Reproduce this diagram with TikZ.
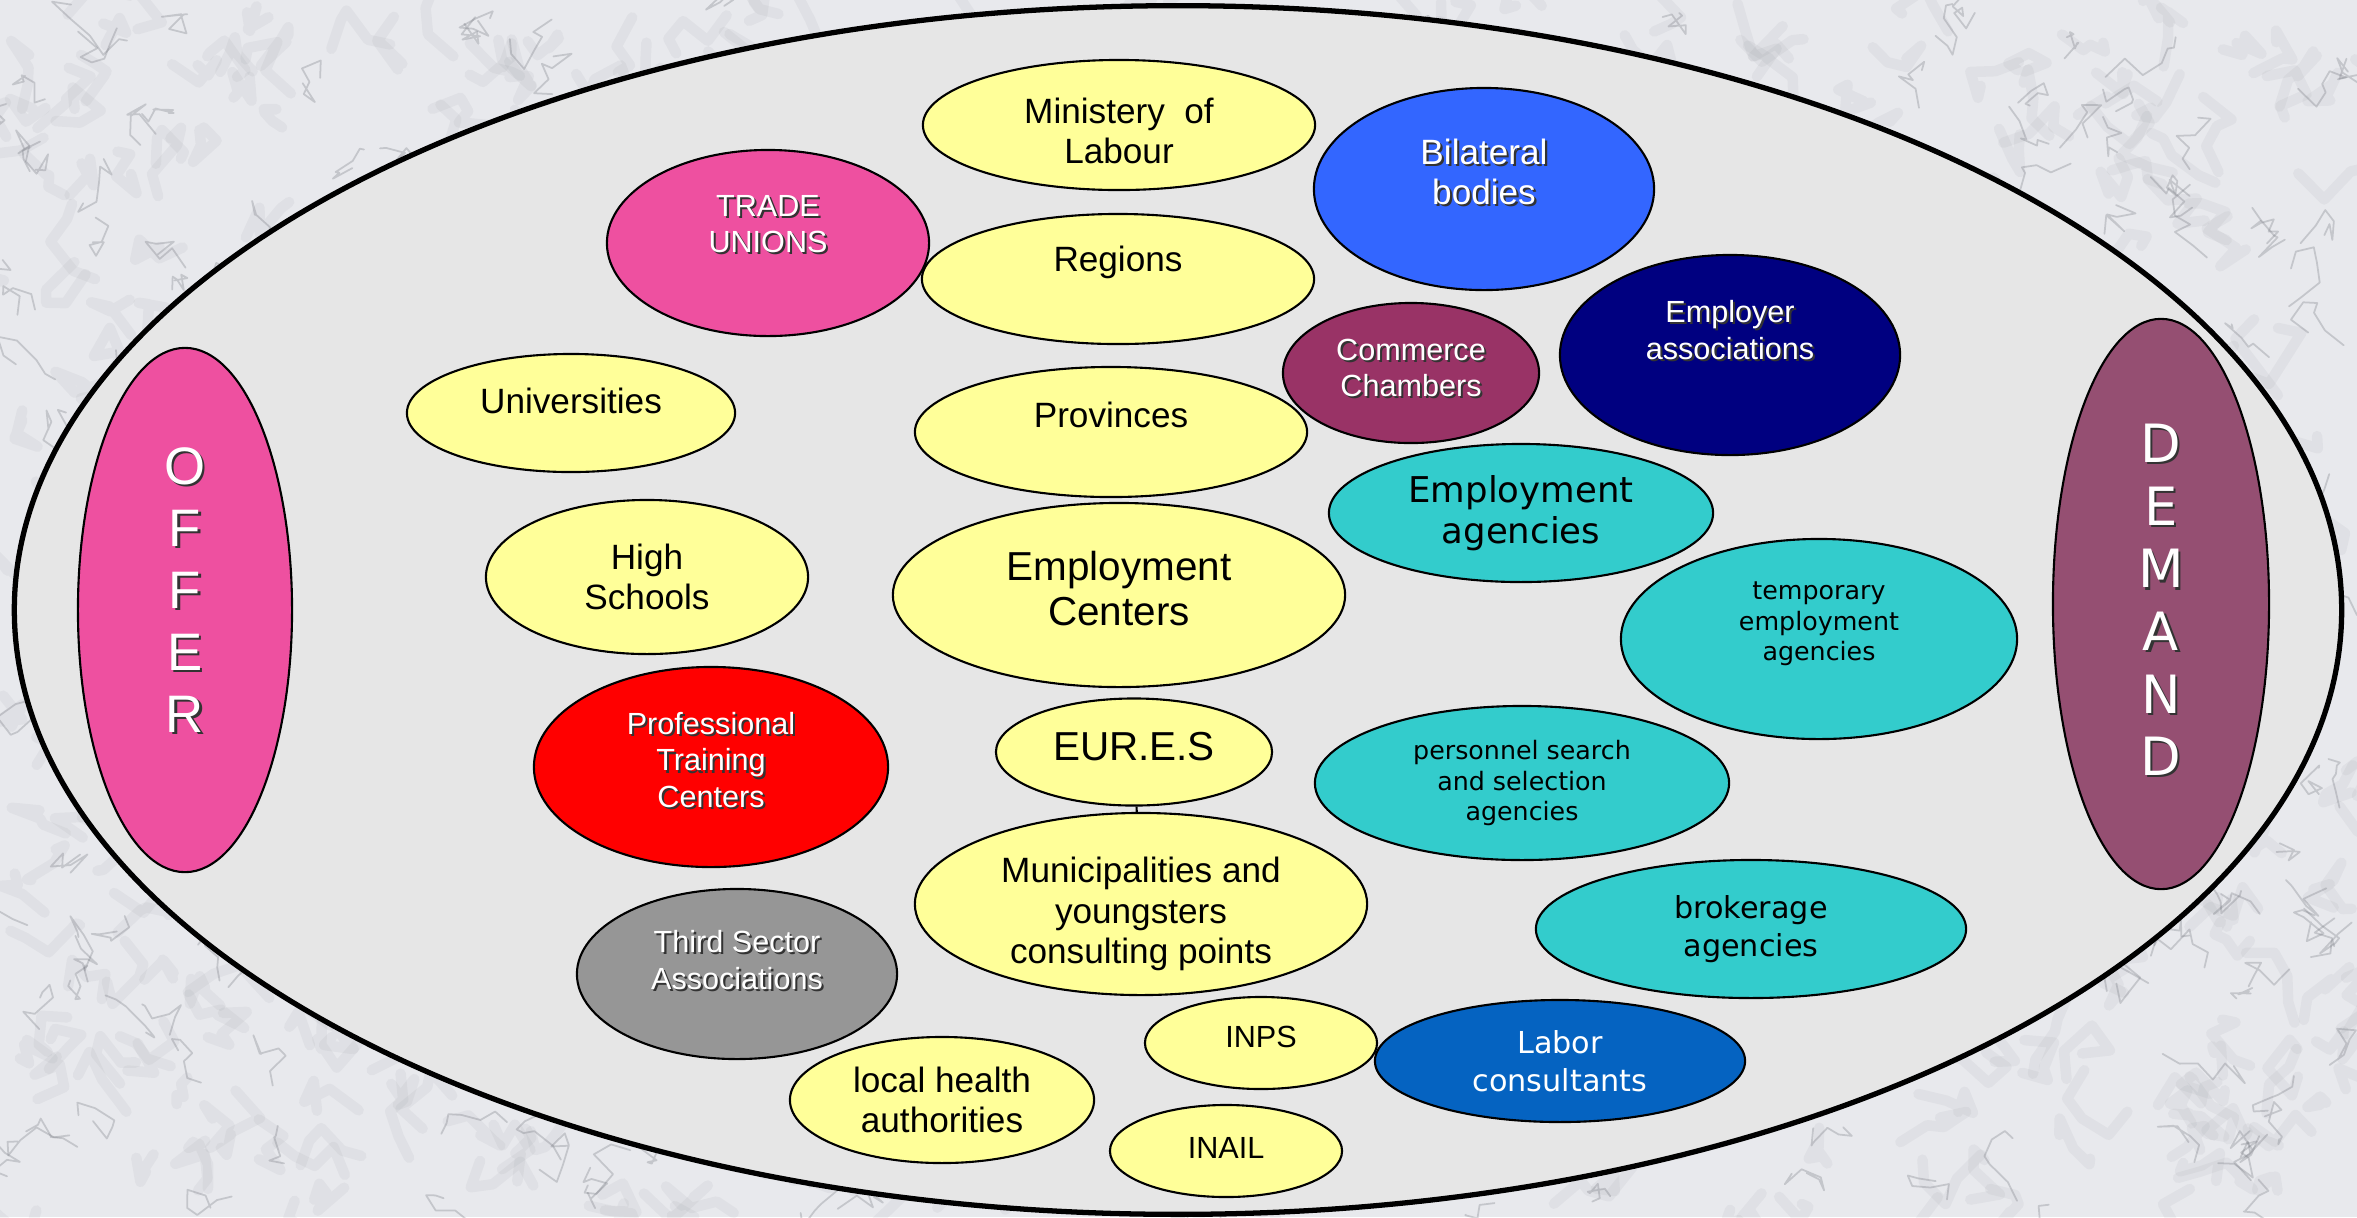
\documentclass[tikz,border=0pt]{standalone}
\usepackage{fontspec}
\setmainfont{Liberation Sans}
\newfontfamily\dejavu{DejaVu Sans}
\usepackage{tikz}
\usetikzlibrary{shapes.geometric}
\definecolor{paleyellow}{RGB}{255,255,153}
\definecolor{offerpink}{RGB}{238,80,160}
\definecolor{demandmauve}{RGB}{149,79,114}
\definecolor{bilatblue}{RGB}{51,102,255}
\definecolor{commercewine}{RGB}{153,51,102}
\definecolor{employernavy}{RGB}{0,0,128}
\definecolor{agencyteal}{RGB}{51,204,204}
\definecolor{consultblue}{RGB}{5,99,193}
\definecolor{sectorgrey}{RGB}{150,150,150}
\definecolor{fieldgrey}{RGB}{230,230,230}
\definecolor{marble}{RGB}{232,233,237}
\definecolor{veingrey}{RGB}{115,118,126}

\begin{document}
\begin{tikzpicture}[x=0.01cm, y=-0.01cm,
    oval/.style={ellipse, draw=black, line width=0.6pt, inner sep=0pt},
    yel/.style={oval, fill=paleyellow},
    txt/.style n args={3}{label={[#1, yshift=#2]center:{#3}}},
    % white lettering with a dark drop shadow
    wtxt/.style n args={3}{label={[#1, text=black!80, xshift=0.6pt, yshift=#2-0.6pt]center:{#3}},
                           label={[#1, text=white, yshift=#2]center:{#3}}},
    every label/.style={align=center, inner sep=0pt},
    ar/.style={font=\fontsize{10}{11.6}\selectfont},
    arl/.style={font=\fontsize{11.5}{12.8}\selectfont},
    ars/.style={font=\fontsize{8.7}{10.4}\selectfont},
    arw/.style={font=\fontsize{8.7}{10.4}\selectfont},
    arwl/.style={font=\fontsize{10}{11.5}\selectfont},
    vds/.style={font=\dejavu\fontsize{7.2}{8.7}\selectfont},
    vdm/.style={font=\dejavu\fontsize{8.6}{10.8}\selectfont},
    vdl/.style={font=\dejavu\fontsize{10.1}{11.5}\selectfont},
    vdw/.style={font=\dejavu\fontsize{8.6}{10.7}\selectfont, text=white},
    offer/.style={font=\fontsize{15}{17.6}\selectfont},
    demand/.style={font=\dejavu\fontsize{15}{17.8}\selectfont},
    softvein/.style={draw=veingrey, line width=3pt, opacity=0.07, line cap=round, line join=round},
    vein/.style={draw=veingrey, line width=0.5pt, opacity=0.3, line cap=round, line join=round}]
\useasboundingbox (0,0) rectangle (2357,1217);
\clip (0,0) rectangle (2357,1217);
% marble backdrop
\fill[marble] (0,0) rectangle (2357,1217);
\pgfmathsetseed{11}
\foreach \k in {1,...,900}
  \draw[softvein] (rnd*2357, rnd*1217) \foreach \s in {1,...,4}{ -- ++(rand*30, rand*30)};
\foreach \k in {1,...,500}
  \draw[vein] (rnd*2357, rnd*1217) \foreach \s in {1,...,6}{ -- ++(rand*20, rand*20)};
% the whole field
\node[ellipse, draw=black, line width=1.5pt, fill=fieldgrey, inner sep=0pt,
      minimum width=23.26cm, minimum height=12.08cm] (field) at (1178,610) {};
% supply and demand sides
\node[oval, fill=offerpink, minimum width=2.14cm, minimum height=5.24cm,
      wtxt={offer}{0.2cm}{O\\F\\F\\E\\R}] (offer) at (185,610) {};
\node[oval, fill=demandmauve, minimum width=2.16cm, minimum height=5.70cm,
      wtxt={demand}{0.04cm}{D\\E\\M\\A\\N\\D}] (demand) at (2161,604) {};
% actors
\node[yel, minimum width=3.92cm, minimum height=1.30cm,
      txt={ar}{-0.06cm}{Ministery\ \ of\\Labour}] (ministry) at (1119,125) {};
\node[oval, fill=offerpink, minimum width=3.22cm, minimum height=1.86cm,
      wtxt={arw}{0.19cm}{TRADE\\UNIONS}] (unions) at (768,243) {};
\node[oval, fill=bilatblue, minimum width=3.40cm, minimum height=2.02cm,
      wtxt={arwl}{0.17cm}{Bilateral\\bodies}] (bilateral) at (1484,189) {};
\node[yel, minimum width=3.92cm, minimum height=1.30cm,
      txt={ar}{0.17cm}{Regions}] (regions) at (1118,279) {};
\node[oval, fill=commercewine, minimum width=2.56cm, minimum height=1.40cm,
      wtxt={arw}{0.05cm}{Commerce\\Chambers}] (commerce) at (1411,373) {};
\node[oval, fill=employernavy, minimum width=3.40cm, minimum height=2.00cm,
      wtxt={arw}{0.25cm}{Employer\\associations}] (employer) at (1730,355) {};
\node[yel, minimum width=3.28cm, minimum height=1.18cm,
      txt={ar}{0.12cm}{Universities}] (universities) at (571,413) {};
\node[yel, minimum width=3.92cm, minimum height=1.30cm,
      txt={ar}{0.17cm}{Provinces}] (provinces) at (1111,432) {};
\node[oval, fill=agencyteal, minimum width=3.84cm, minimum height=1.38cm,
      txt={vdl}{0cm}{Employment\\agencies}] (empagencies) at (1521,513) {};
\node[yel, minimum width=3.22cm, minimum height=1.54cm,
      txt={ar}{0cm}{High\\Schools}] (schools) at (647,577) {};
\node[yel, minimum width=4.52cm, minimum height=1.84cm,
      txt={arl}{0.06cm}{Employment\\Centers}] (empcenters) at (1119,595) {};
\node[oval, fill=agencyteal, minimum width=3.96cm, minimum height=2.00cm,
      txt={vds}{0.15cm}{temporary\\employment\\agencies}] (temporary) at (1819,639) {};
\node[oval, fill=red, minimum width=3.54cm, minimum height=2.00cm,
      wtxt={arw}{0.07cm}{Professional\\Training\\Centers}] (training) at (711,767) {};
\node[yel, minimum width=2.76cm, minimum height=1.07cm,
      txt={arl}{0.05cm}{EUR.E.S}] (eures) at (1134,752) {};
\node[oval, fill=agencyteal, minimum width=4.14cm, minimum height=1.54cm,
      txt={vds}{0cm}{personnel search\\and selection\\agencies}] (personnel) at (1522,783) {};
\node[yel, minimum width=4.52cm, minimum height=1.82cm,
      txt={ar}{-0.1cm}{Municipalities and\\youngsters\\consulting points}] (municipalities) at (1141,904) {};
\node[oval, fill=agencyteal, minimum width=4.30cm, minimum height=1.38cm,
      txt={vdm}{0cm}{brokerage\\agencies}] (brokerage) at (1751,929) {};
\node[oval, fill=sectorgrey, minimum width=3.20cm, minimum height=1.70cm,
      wtxt={arw}{0.14cm}{Third Sector\\Associations}] (thirdsector) at (737,974) {};
\node[yel, minimum width=2.32cm, minimum height=0.92cm,
      txt={ars}{0.06cm}{INPS}] (inps) at (1261,1043) {};
\node[oval, fill=consultblue, minimum width=3.70cm, minimum height=1.22cm,
      txt={vdw}{0cm}{Labor\\consultants}] (labor) at (1560,1061) {};
\node[yel, minimum width=3.04cm, minimum height=1.26cm,
      txt={ar}{0cm}{local health\\authorities}] (health) at (942,1100) {};
\node[yel, minimum width=2.32cm, minimum height=0.92cm,
      txt={ars}{0.03cm}{INAIL}] (inail) at (1226,1151) {};
\draw[line width=0.6pt] (eures) -- (municipalities);
\end{tikzpicture}
\end{document}
